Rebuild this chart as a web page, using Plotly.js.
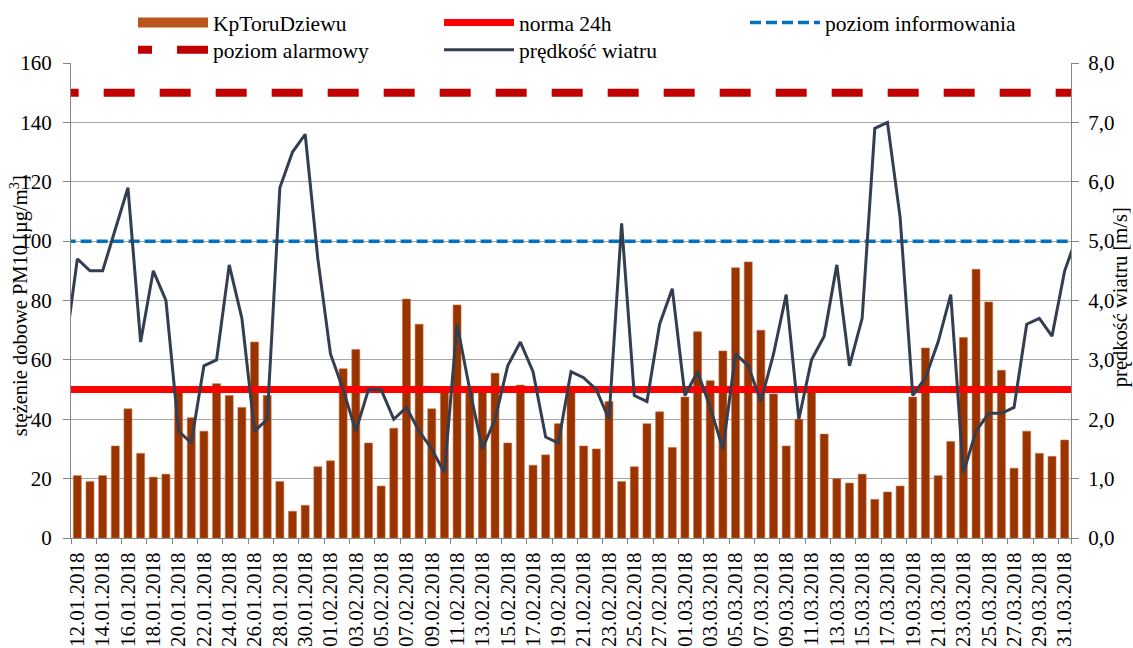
<!DOCTYPE html>
<html>
<head>
<meta charset="utf-8">
<script src="https://cdn.plot.ly/plotly-3.0.1.min.js"></script>
<style>
  html, body { margin: 0; padding: 0; background: #ffffff; }
  #chart { width: 1133px; height: 648px; }
</style>
</head>
<body>
<div id="chart"></div>
<script>
// ---- data ----
var dates = [
  "12.01.2018","13.01.2018","14.01.2018","15.01.2018","16.01.2018","17.01.2018","18.01.2018","19.01.2018","20.01.2018","21.01.2018",
  "22.01.2018","23.01.2018","24.01.2018","25.01.2018","26.01.2018","27.01.2018","28.01.2018","29.01.2018","30.01.2018","31.01.2018",
  "01.02.2018","02.02.2018","03.02.2018","04.02.2018","05.02.2018","06.02.2018","07.02.2018","08.02.2018","09.02.2018","10.02.2018",
  "11.02.2018","12.02.2018","13.02.2018","14.02.2018","15.02.2018","16.02.2018","17.02.2018","18.02.2018","19.02.2018","20.02.2018",
  "21.02.2018","22.02.2018","23.02.2018","24.02.2018","25.02.2018","26.02.2018","27.02.2018","28.02.2018",
  "01.03.2018","02.03.2018","03.03.2018","04.03.2018","05.03.2018","06.03.2018","07.03.2018","08.03.2018","09.03.2018","10.03.2018",
  "11.03.2018","12.03.2018","13.03.2018","14.03.2018","15.03.2018","16.03.2018","17.03.2018","18.03.2018","19.03.2018","20.03.2018",
  "21.03.2018","22.03.2018","23.03.2018","24.03.2018","25.03.2018","26.03.2018","27.03.2018","28.03.2018","29.03.2018","30.03.2018",
  "31.03.2018"
];
// neighbouring days (outside the axis range) – the wind line runs into the plot edges
var dayBefore = "11.01.2018";
var dayAfter = "01.04.2018";

// PM10 daily concentration, station KpToruDziewu [µg/m3]
var pm10 = [
  21, 19, 21, 31, 43.5, 28.5, 20.5, 21.5, 49, 40.5,
  36, 52, 48, 44, 66, 48, 19, 9, 11, 24,
  26, 57, 63.5, 32, 17.5, 37, 80.5, 72, 43.5, 49,
  78.5, 49, 49, 55.5, 32, 51.5, 24.5, 28, 38.5, 49,
  31, 30, 46, 19, 24, 38.5, 42.5, 30.5,
  47.5, 69.5, 53, 63, 91, 93, 70, 48.5, 31, 40,
  49, 35, 20, 18.5, 21.5, 13, 15.5, 17.5, 47.5, 64,
  21, 32.5, 67.5, 90.5, 79.5, 56.5, 23.5, 36, 28.5, 27.5,
  33
];

// wind speed [m/s]
var wind = [
  4.7, 4.5, 4.5, 5.2, 5.9, 3.3, 4.5, 4.0, 1.8, 1.6,
  2.9, 3.0, 4.6, 3.7, 1.8, 2.0, 5.9, 6.5, 6.8, 4.7,
  3.1, 2.5, 1.8, 2.5, 2.5, 2.0, 2.2, 1.8, 1.5, 1.1,
  3.6, 2.5, 1.5, 2.0, 2.9, 3.3, 2.8, 1.7, 1.6, 2.8,
  2.7, 2.5, 2.0, 5.3, 2.4, 2.3, 3.6, 4.2,
  2.4, 2.8, 2.2, 1.5, 3.1, 2.9, 2.3, 3.1, 4.1, 2.0,
  3.0, 3.4, 4.6, 2.9, 3.7, 6.9, 7.0, 5.4, 2.4, 2.7,
  3.3, 4.1, 1.1, 1.8, 2.1, 2.1, 2.2, 3.6, 3.7, 3.4,
  4.5
];
var windBefore = 3.1;
var windAfter = 5.1;

// reference levels [µg/m3]
var norma24h = 50;
var poziomInformowania = 100;
var poziomAlarmowy = 150;

// tick labels: every second day
var tickLabels = dates.filter(function (d, i) { return i % 2 === 0; });

// ---- chart ----
var allDates = [dayBefore].concat(dates, [dayAfter]);
var windAll = [windBefore].concat(wind, [windAfter]);
var edgeX = [dayBefore, dayAfter];

var FONT = "Liberation Serif";
var AXIS_COL = "#868686";
var TICK_FONT = { family: FONT, size: 21, color: "#000000" };

var traces = [
  { // bars
    type: "bar", x: dates, y: pm10, name: "KpToruDziewu",
    marker: { color: "#993300", line: { color: "#C8703A", width: 0.6 } },
    width: 0.63, showlegend: false, hoverinfo: "x+y"
  },
  { // legend swatch for the bars
    type: "scatter", mode: "lines", x: [dates[0]], y: [null], name: "KpToruDziewu",
    line: { color: "#B8561C", width: 12 }, legend: "legend"
  },
  {
    type: "scatter", mode: "lines", x: edgeX, y: [norma24h, norma24h], name: "norma 24h",
    line: { color: "#FF0000", width: 7 }, legend: "legend"
  },
  {
    type: "scatter", mode: "lines", x: edgeX, y: [poziomInformowania, poziomInformowania], name: "poziom informowania",
    line: { color: "#0070C0", width: 3.5, dash: "11px,5px" }, legend: "legend"
  },
  {
    type: "scatter", mode: "lines", x: edgeX, y: [poziomAlarmowy, poziomAlarmowy], name: "poziom alarmowy",
    line: { color: "#C00000", width: 8, dash: "14px,25px,17px,0px" }, legend: "legend2"
  },
  {
    type: "scatter", mode: "lines", x: allDates, y: windAll, name: "prędkość wiatru",
    yaxis: "y2", line: { color: "#333F50", width: 3 }, legend: "legend2"
  }
];

var legendBase = {
  orientation: "h", xanchor: "left", yanchor: "top", yref: "container",
  font: { family: FONT, size: 21.5, color: "#000000" },
  bgcolor: "rgba(0,0,0,0)", itemwidth: 70, entrywidth: 221,
  traceorder: "normal", itemclick: false, itemdoubleclick: false
};

var layout = {
  width: 1133, height: 648,
  margin: { l: 71, r: 62, t: 63, b: 110, pad: 0, autoexpand: false },
  paper_bgcolor: "#ffffff", plot_bgcolor: "#ffffff",
  separators: ", ",
  font: { family: FONT, size: 21, color: "#000000" },
  showlegend: true,
  barmode: "overlay",
  legend: Object.assign({}, legendBase, { x: 0.062, y: 0.997 }),
  legend2: Object.assign({}, legendBase, { x: 0.062, y: 0.955 }),
  xaxis: {
    type: "category", categoryorder: "array", categoryarray: allDates,
    range: [0.5, allDates.length - 1.5],
    tickmode: "array", tickvals: tickLabels, ticktext: tickLabels,
    tickangle: -90, ticks: "outside", tickson: "boundaries", ticklen: 5,
    tickcolor: AXIS_COL, showline: true, linecolor: AXIS_COL, linewidth: 1,
    showgrid: false, zeroline: false, ticklabelstandoff: 5, automargin: false,
    tickfont: TICK_FONT, fixedrange: true
  },
  yaxis: {
    range: [0, 160], tick0: 0, dtick: 20, tickformat: "d",
    ticks: "outside", ticklen: 7, tickcolor: AXIS_COL,
    showline: true, linecolor: AXIS_COL, linewidth: 1,
    showgrid: true, gridcolor: "#A6A6A6", gridwidth: 1, zeroline: false,
    ticklabelstandoff: 7, automargin: false,
    tickfont: TICK_FONT, fixedrange: true
  },
  yaxis2: {
    overlaying: "y", side: "right",
    range: [0, 8], tick0: 0, dtick: 1, tickformat: ".1f",
    ticks: "outside", ticklen: 7, tickcolor: AXIS_COL,
    showline: true, linecolor: AXIS_COL, linewidth: 1,
    showgrid: false, zeroline: false, ticklabelstandoff: 5, automargin: false,
    tickfont: TICK_FONT, fixedrange: true
  },
  annotations: [
    {
      text: "stężenie dobowe PM10 [µg/m<sup>3</sup>]", textangle: -90,
      xref: "paper", yref: "paper", x: 0, y: 0.488, xshift: -52,
      xanchor: "center", yanchor: "middle", showarrow: false,
      font: { family: FONT, size: 20.5, color: "#000000" }
    },
    {
      text: "prędkość wiatru [m/s]", textangle: -90,
      xref: "paper", yref: "paper", x: 1, y: 0.507, xshift: 49,
      xanchor: "center", yanchor: "middle", showarrow: false,
      font: { family: FONT, size: 20.5, color: "#000000" }
    }
  ]
};

Plotly.newPlot("chart", traces, layout, { displayModeBar: false, staticPlot: true });
</script>
</body>
</html>
